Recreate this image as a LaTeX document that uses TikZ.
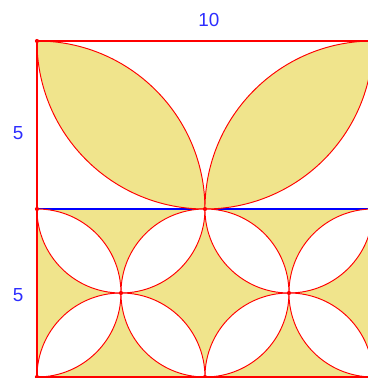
\documentclass[tikz,border=0pt]{standalone}
\usepackage{fontspec}
\setmainfont{Liberation Sans}
\usepackage{xcolor}
\definecolor{leafFill}{RGB}{240,228,140}
\definecolor{edgeRed}{RGB}{255,0,0}
\definecolor{labelBlue}{RGB}{45,45,255}
\usepackage{tikz}
\usetikzlibrary{calc}
\tikzstyle{leafline}=[draw=edgeRed, line width=0.8pt]
\tikzstyle{frameline}=[draw=edgeRed, line width=1.3pt]
\tikzstyle{midline}=[draw=blue, line width=1.1pt]
\tikzstyle{sidelabel}=[font=\fontsize{16}{18}\selectfont, color=labelBlue]
\tikzstyle{vertexdot}=[circle, fill=edgeRed, inner sep=0pt, minimum size=3.5pt]

\begin{document}
\begin{tikzpicture}
    \useasboundingbox (-1.10,-0.03) rectangle (9.85,11.22);

    % Fundo amarelo da metade de baixo
    \fill[leafFill] (0,0) rectangle (10,5);

    % Linha do meio
    \coordinate (midL) at (0,5);
    \coordinate (midR) at (10,5);
    \draw[midline] (midL) -- (midR);

    % Folhas de cima (raio 5)
    \draw[leafline, fill=leafFill] (0,10) arc[start angle=90, end angle=0, radius=5]
          arc[start angle=270, end angle=180, radius=5] -- cycle;
    \draw[leafline, fill=leafFill] (5,5) arc[start angle=-90, end angle=0, radius=5]
          arc[start angle=90, end angle=180, radius=5] -- cycle;

    % Folhas brancas de baixo (raio 2.5)
    \foreach \a/\b in {0/0,2.5/2.5,5/0,7.5/2.5} {
      \draw[leafline, fill=white] (\a,\b) arc[start angle=-90, end angle=0, radius=2.5]
            arc[start angle=90, end angle=180, radius=2.5] -- cycle;
    }
    \foreach \a/\b in {0/5,2.5/2.5,5/5,7.5/2.5} {
      \draw[leafline, fill=white] (\a,\b) arc[start angle=90, end angle=0, radius=2.5]
            arc[start angle=270, end angle=180, radius=2.5] -- cycle;
    }

    % Moldura
    \coordinate (cornerBL) at (0,0);
    \coordinate (cornerTR) at (10,10);
    \draw[frameline] (cornerBL) rectangle (cornerTR);

    % Pontos
    \foreach \x/\y/\nome in {0/10/pA,0/5/pB,5/5/pC,10/5/pD,10/10/pE,2.5/2.5/pF,7.5/2.5/pG,0/0/pH,5/0/pI,10/0/pJ} {
      \node[vertexdot] (\nome) at (\x,\y) {};
    }

    % Medidas
    \node[sidelabel] (lenTop)   at (5.12,10.63) {10};
    \node[sidelabel] (lenUpper) at (-0.56,7.26) {5};
    \node[sidelabel] (lenLower) at (-0.56,2.44) {5};
\end{tikzpicture}
\end{document}
